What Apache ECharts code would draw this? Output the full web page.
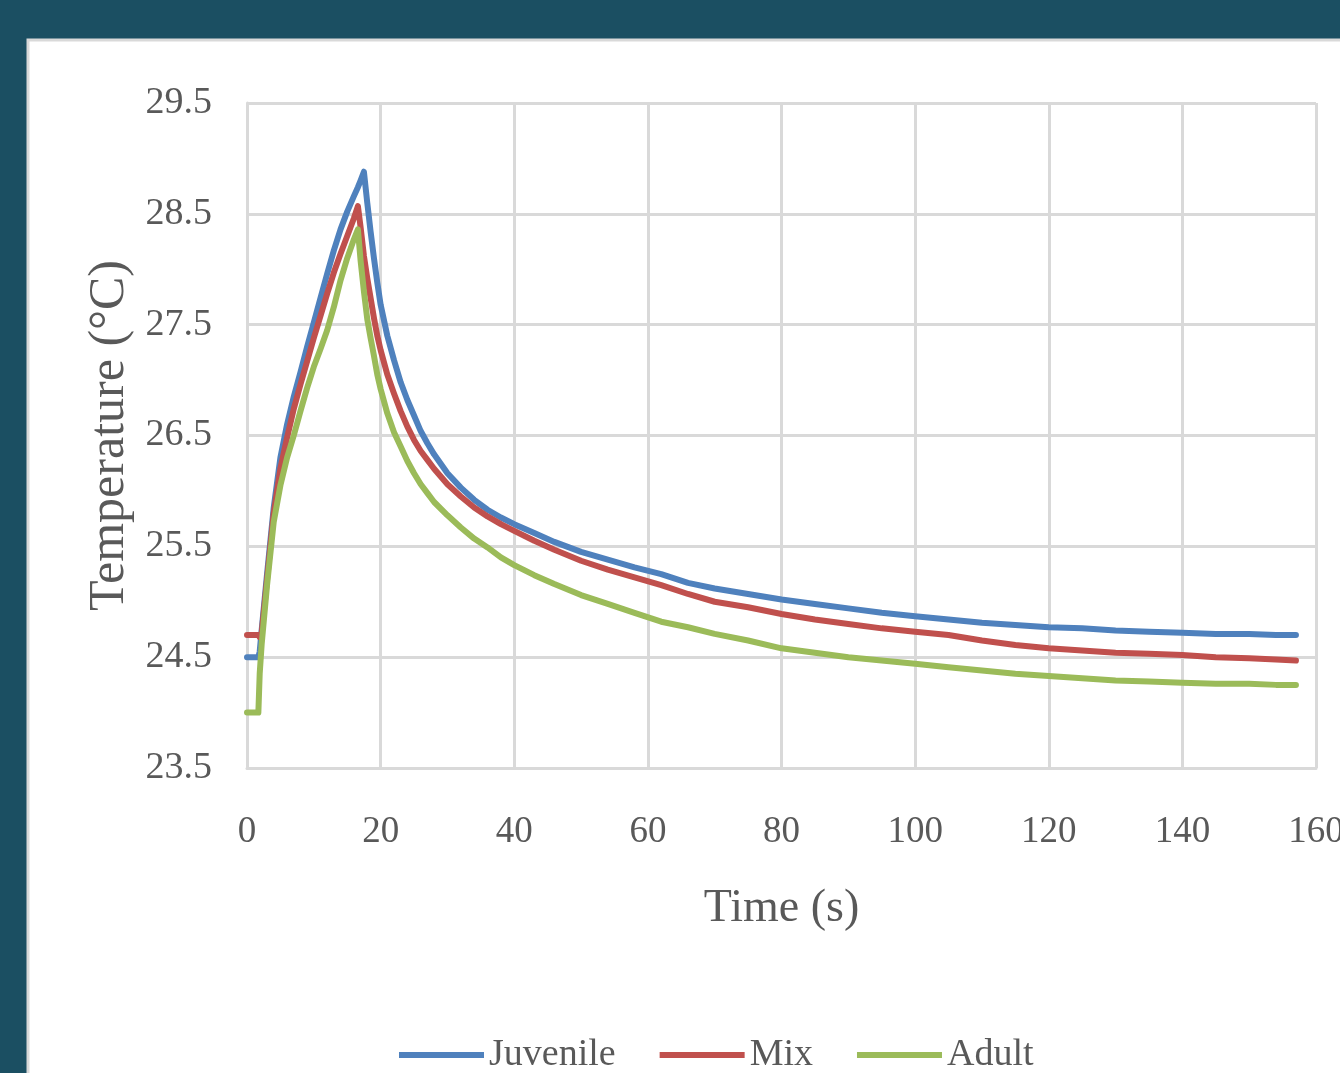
<!DOCTYPE html>
<html>
<head>
<meta charset="utf-8">
<script src="https://cdn.jsdelivr.net/npm/echarts@6/dist/echarts.min.js"></script>
<style>
html,body{margin:0;padding:0;background:#1b4f62;}
#chart{width:1340px;height:1073px;}
</style>
</head>
<body>
<div id="chart"></div>
<script>
// ---- data ----
const timeSec = [0, 1.7, 1.9, 2.2, 3, 4, 5, 6, 7, 8, 9, 10, 11, 12, 13, 14, 15, 16, 16.6, 17, 17.5, 18, 18.5, 19, 19.5, 20, 21, 22, 23, 24, 25, 26, 27, 28, 30, 32, 34, 36, 38, 40, 43, 46, 50, 54, 58, 62, 66, 70, 75, 80, 85, 90, 95, 100, 105, 110, 115, 120, 125, 130, 135, 140, 145, 150, 154, 157];

const juvenile = [24.5, 24.5, 24.55, 24.75, 25.25, 25.85, 26.3, 26.6, 26.85, 27.07, 27.3, 27.52, 27.74, 27.96, 28.17, 28.36, 28.52, 28.66, 28.74, 28.8, 28.88, 28.6, 28.34, 28.1, 27.88, 27.68, 27.4, 27.18, 26.98, 26.82, 26.68, 26.54, 26.43, 26.33, 26.16, 26.03, 25.92, 25.83, 25.76, 25.7, 25.62, 25.54, 25.45, 25.38, 25.31, 25.25, 25.17, 25.12, 25.07, 25.02, 24.98, 24.94, 24.9, 24.87, 24.84, 24.81, 24.79, 24.77, 24.76, 24.74, 24.73, 24.72, 24.71, 24.71, 24.7, 24.7];

const mix = [24.7, 24.7, 24.68, 24.72, 25.2, 25.8, 26.2, 26.48, 26.74, 26.96, 27.17, 27.38, 27.58, 27.78, 27.97, 28.14, 28.3, 28.46, 28.57, 28.38, 28.12, 27.92, 27.74, 27.56, 27.4, 27.27, 27.05, 26.88, 26.72, 26.58, 26.46, 26.36, 26.28, 26.2, 26.06, 25.95, 25.85, 25.77, 25.7, 25.64, 25.55, 25.47, 25.37, 25.29, 25.22, 25.15, 25.07, 25.0, 24.95, 24.89, 24.84, 24.8, 24.76, 24.73, 24.7, 24.65, 24.61, 24.58, 24.56, 24.54, 24.53, 24.52, 24.5, 24.49, 24.48, 24.47];

const adult = [24.0, 24.0, 24.35, 24.62, 25.15, 25.72, 26.05, 26.3, 26.5, 26.72, 26.93, 27.12, 27.28, 27.45, 27.66, 27.9, 28.1, 28.27, 28.36, 28.08, 27.8, 27.55, 27.38, 27.22, 27.05, 26.92, 26.7, 26.53, 26.4, 26.27, 26.16, 26.06, 25.98, 25.9, 25.78, 25.67, 25.57, 25.49, 25.4, 25.33, 25.24, 25.16, 25.06, 24.98, 24.9, 24.82, 24.77, 24.71, 24.65, 24.58, 24.54, 24.5, 24.47, 24.44, 24.41, 24.38, 24.35, 24.33, 24.31, 24.29, 24.28, 24.27, 24.26, 24.26, 24.25, 24.25];

const seriesNames = ['Juvenile', 'Mix', 'Adult'];
const seriesColors = ['#4f81bd', '#c0504d', '#9bbb59'];
const xTicks = { min: 0, max: 160, step: 20 };
const yTicks = { min: 23.5, max: 29.5, step: 1 };
const xTitle = 'Time (s)';
const yTitle = 'Temperature (°C)';

// ---- chart ----
const FONT = '"Liberation Serif", "DejaVu Serif", serif';
const TXT = '#595959';
const GRID = '#d9d9d9';

function pairs(vals) { return timeSec.map((t, i) => [t, vals[i]]); }

const chart = echarts.init(document.getElementById('chart'), null, { renderer: 'canvas' });
chart.setOption({
  backgroundColor: '#1b4f62',
  animation: false,
  graphic: [{
    type: 'rect',
    z: -10,
    shape: { x: 28, y: 40, width: 1340, height: 1100 },
    style: { fill: '#ffffff', stroke: '#d9d9d9', lineWidth: 3 }
  }],
  grid: { left: 247, top: 103, width: 1069, height: 665, containLabel: false, outerBoundsMode: 'none' },
  xAxis: {
    type: 'value',
    min: xTicks.min, max: xTicks.max, interval: xTicks.step,
    name: xTitle, nameLocation: 'middle', nameGap: 118,
    nameTextStyle: { fontFamily: FONT, fontSize: 46, color: TXT },
    axisLine: { show: true, lineStyle: { color: GRID, width: 3 } },
    axisTick: { show: false },
    axisLabel: { fontFamily: FONT, fontSize: 37, color: TXT, margin: 46 },
    splitLine: { show: true, lineStyle: { color: GRID, width: 3 } }
  },
  yAxis: {
    type: 'value',
    min: yTicks.min, max: yTicks.max, interval: yTicks.step,
    name: yTitle, nameLocation: 'middle', nameGap: 112, nameRotate: 90,
    nameTextStyle: { fontFamily: FONT, fontSize: 50, color: TXT },
    axisLine: { show: true, lineStyle: { color: GRID, width: 3 } },
    axisTick: { show: false },
    axisLabel: { fontFamily: FONT, fontSize: 38, color: TXT, margin: 35,
      formatter: v => v.toFixed(1) },
    splitLine: { show: true, lineStyle: { color: GRID, width: 3 } }
  },
  legend: {
    left: 394, top: 1031,
    icon: 'rect', itemWidth: 85, itemHeight: 6, itemGap: 44,
    textStyle: { fontFamily: FONT, fontSize: 38, color: TXT },
    data: seriesNames
  },
  series: [juvenile, mix, adult].map((vals, i) => ({
    name: seriesNames[i],
    type: 'line',
    data: pairs(vals),
    showSymbol: false,
    symbol: 'none',
    smooth: false,
    color: seriesColors[i],
    lineStyle: { color: seriesColors[i], width: 6, join: 'round', cap: 'round' },
    z: 2 + i
  }))
});
</script>
</body>
</html>
